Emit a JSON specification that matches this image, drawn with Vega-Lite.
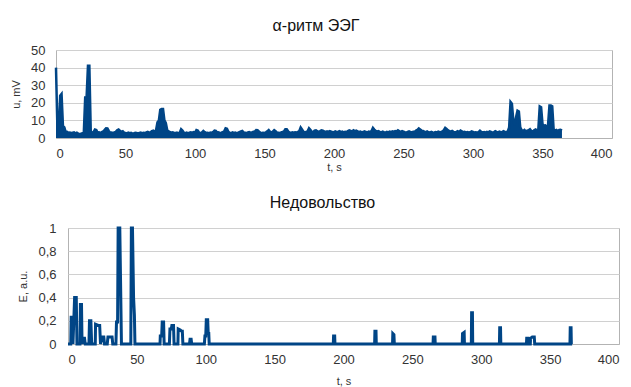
{
  "$schema": "https://vega.github.io/schema/vega-lite/v6.json",
  "padding": {"top": 17, "left": 9, "right": 5, "bottom": 0},
  "background": "white",
  "config": {
    "font": "Liberation Sans",
    "view": {"stroke": "#b3b3b3", "strokeWidth": 1},
    "axis": {"labelFont": "Liberation Sans", "titleFont": "Liberation Sans", "labelFontSize": 13, "titleFontSize": 11, "titleFontWeight": "normal", "labelColor": "#333", "titleColor": "#333", "ticks": false, "domainColor": "#b3b3b3", "gridColor": "#d0d0d0"},
    "title": {"font": "Liberation Sans", "fontSize": 16, "fontWeight": "normal", "color": "#111"}
  },
  "columns": 1,
  "spacing": 21,
  "concat": [
    {"spacing": 0, "hconcat": [
    {
      "width": 1,
      "height": 10,
      "view": {"stroke": null},
      "data": {"values": []},
      "mark": "point",
      "encoding": {}
    },
    {
      "title": {"text": "α-ритм ЭЭГ", "anchor": "middle", "frame": "group", "dx": -18, "offset": 10},
      "width": 556,
      "height": 88,
      "data": {"values": [
        {"t":0,"u":40},{"t":1,"u":6},{"t":2,"u":5},{"t":3,"u":24},{"t":4,"u":25},{"t":5,"u":7},{"t":6,"u":6},{"t":7,"u":3.2},{"t":8,"u":3.5},{"t":9,"u":3},
        {"t":10,"u":3.1},{"t":11,"u":2.8},{"t":12,"u":3},{"t":13,"u":3.2},{"t":14,"u":2.6},{"t":15,"u":3},{"t":16,"u":2.5},{"t":17,"u":2.2},{"t":18,"u":2.4},{"t":19,"u":2.8},
        {"t":20,"u":3},{"t":21,"u":23},{"t":22,"u":23},{"t":23,"u":41},{"t":24,"u":41},{"t":25,"u":4},{"t":26,"u":3},{"t":27,"u":3.4},{"t":28,"u":4.8},{"t":29,"u":4.5},
        {"t":30,"u":3},{"t":31,"u":3.2},{"t":32,"u":2.8},{"t":33,"u":3.4},{"t":34,"u":3.8},{"t":35,"u":4.6},{"t":36,"u":5.5},{"t":37,"u":5.4},{"t":38,"u":4},{"t":39,"u":3},
        {"t":40,"u":3.1},{"t":41,"u":2.8},{"t":42,"u":3.2},{"t":43,"u":3.5},{"t":44,"u":4.4},{"t":45,"u":4.8},{"t":46,"u":4.1},{"t":47,"u":3.5},{"t":48,"u":3.8},{"t":49,"u":3},
        {"t":50,"u":2.8},{"t":51,"u":2.6},{"t":52,"u":3},{"t":53,"u":2.7},{"t":54,"u":2.9},{"t":55,"u":2.5},{"t":56,"u":2.6},{"t":57,"u":3},{"t":58,"u":2.8},{"t":59,"u":2.6},
        {"t":60,"u":2.9},{"t":61,"u":3.1},{"t":62,"u":2.7},{"t":63,"u":3},{"t":64,"u":2.8},{"t":65,"u":3.2},{"t":66,"u":3.5},{"t":67,"u":3.1},{"t":68,"u":3.3},{"t":69,"u":3.9},
        {"t":70,"u":4.2},{"t":71,"u":3.5},{"t":72,"u":4.5},{"t":73,"u":9},{"t":74,"u":10},{"t":75,"u":16},{"t":76,"u":16.5},{"t":77,"u":16.5},{"t":78,"u":10},{"t":79,"u":8.5},
        {"t":80,"u":4.5},{"t":81,"u":3.8},{"t":82,"u":3.4},{"t":83,"u":3},{"t":84,"u":3.2},{"t":85,"u":2.9},{"t":86,"u":2.8},{"t":87,"u":3.1},{"t":88,"u":2.7},{"t":89,"u":3},
        {"t":90,"u":5},{"t":91,"u":4.2},{"t":92,"u":3},{"t":93,"u":2.8},{"t":94,"u":3.1},{"t":95,"u":2.6},{"t":96,"u":3},{"t":97,"u":3.2},{"t":98,"u":2.9},{"t":99,"u":3.3},
        {"t":100,"u":3.1},{"t":101,"u":4.5},{"t":102,"u":4.2},{"t":103,"u":3},{"t":104,"u":2.8},{"t":105,"u":3.2},{"t":106,"u":4},{"t":107,"u":3.3},{"t":108,"u":2.9},{"t":109,"u":3},
        {"t":110,"u":2.7},{"t":111,"u":3.1},{"t":112,"u":2.9},{"t":113,"u":3.4},{"t":114,"u":4.2},{"t":115,"u":4},{"t":116,"u":3},{"t":117,"u":3.2},{"t":118,"u":2.8},{"t":119,"u":3},
        {"t":120,"u":3.4},{"t":121,"u":3.8},{"t":122,"u":5.5},{"t":123,"u":5.2},{"t":124,"u":3.5},{"t":125,"u":3},{"t":126,"u":2.8},{"t":127,"u":3.2},{"t":128,"u":2.9},{"t":129,"u":3.1},
        {"t":130,"u":2.7},{"t":131,"u":3},{"t":132,"u":3.4},{"t":133,"u":3.8},{"t":134,"u":4},{"t":135,"u":3.2},{"t":136,"u":3},{"t":137,"u":2.8},{"t":138,"u":3.1},{"t":139,"u":3.3},
        {"t":140,"u":2.9},{"t":141,"u":3.2},{"t":142,"u":3.5},{"t":143,"u":3.6},{"t":144,"u":4.5},{"t":145,"u":4.4},{"t":146,"u":3.6},{"t":147,"u":3.1},{"t":148,"u":2.8},{"t":149,"u":3},
        {"t":150,"u":2.9},{"t":151,"u":3.2},{"t":152,"u":3.8},{"t":153,"u":4.5},{"t":154,"u":3.5},{"t":155,"u":3.2},{"t":156,"u":3.6},{"t":157,"u":4.5},{"t":158,"u":3.9},{"t":159,"u":3.1},
        {"t":160,"u":3},{"t":161,"u":2.8},{"t":162,"u":3.2},{"t":163,"u":3.4},{"t":164,"u":3.7},{"t":165,"u":5},{"t":166,"u":5},{"t":167,"u":3.8},{"t":168,"u":3.1},{"t":169,"u":2.9},
        {"t":170,"u":3.2},{"t":171,"u":3},{"t":172,"u":3.3},{"t":173,"u":3.1},{"t":174,"u":3.4},{"t":175,"u":3.9},{"t":176,"u":6},{"t":177,"u":4.8},{"t":178,"u":3.6},{"t":179,"u":3.2},
        {"t":180,"u":3.5},{"t":181,"u":3.8},{"t":182,"u":5.5},{"t":183,"u":4.6},{"t":184,"u":3.6},{"t":185,"u":3.4},{"t":186,"u":4.2},{"t":187,"u":4.4},{"t":188,"u":3.8},{"t":189,"u":3.5},
        {"t":190,"u":3.9},{"t":191,"u":4.4},{"t":192,"u":4.2},{"t":193,"u":3.7},{"t":194,"u":3.4},{"t":195,"u":3.8},{"t":196,"u":3.5},{"t":197,"u":3.9},{"t":198,"u":3.6},{"t":199,"u":3.3},
        {"t":200,"u":3.5},{"t":201,"u":3.8},{"t":202,"u":3.4},{"t":203,"u":3.6},{"t":204,"u":3.9},{"t":205,"u":3.3},{"t":206,"u":3.6},{"t":207,"u":3.2},{"t":208,"u":3.5},{"t":209,"u":3.4},
        {"t":210,"u":3.9},{"t":211,"u":4.3},{"t":212,"u":4},{"t":213,"u":3.6},{"t":214,"u":4.4},{"t":215,"u":3.9},{"t":216,"u":4.2},{"t":217,"u":3.8},{"t":218,"u":3.4},{"t":219,"u":3.6},
        {"t":220,"u":3.2},{"t":221,"u":3.5},{"t":222,"u":3.8},{"t":223,"u":3.4},{"t":224,"u":3.2},{"t":225,"u":3.6},{"t":226,"u":3.4},{"t":227,"u":4},{"t":228,"u":5.8},{"t":229,"u":4.8},
        {"t":230,"u":4},{"t":231,"u":3.6},{"t":232,"u":3.9},{"t":233,"u":3.5},{"t":234,"u":3.2},{"t":235,"u":3.6},{"t":236,"u":3.3},{"t":237,"u":3.1},{"t":238,"u":3.5},{"t":239,"u":3.2},
        {"t":240,"u":3.6},{"t":241,"u":3.4},{"t":242,"u":3.8},{"t":243,"u":3.5},{"t":244,"u":3.9},{"t":245,"u":3.7},{"t":246,"u":4.4},{"t":247,"u":3.8},{"t":248,"u":3.5},{"t":249,"u":3.9},
        {"t":250,"u":3.6},{"t":251,"u":3.3},{"t":252,"u":3.1},{"t":253,"u":3.5},{"t":254,"u":3.8},{"t":255,"u":3.4},{"t":256,"u":3.2},{"t":257,"u":3.6},{"t":258,"u":3.5},{"t":259,"u":4.2},
        {"t":260,"u":4.6},{"t":261,"u":5.4},{"t":262,"u":4.8},{"t":263,"u":4.2},{"t":264,"u":4},{"t":265,"u":3.6},{"t":266,"u":3.4},{"t":267,"u":3.8},{"t":268,"u":3.3},{"t":269,"u":3.1},
        {"t":270,"u":3.5},{"t":271,"u":3.2},{"t":272,"u":3},{"t":273,"u":3.4},{"t":274,"u":3.2},{"t":275,"u":3.6},{"t":276,"u":3.3},{"t":277,"u":3.5},{"t":278,"u":3.8},{"t":279,"u":4.5},
        {"t":280,"u":5.8},{"t":281,"u":5.2},{"t":282,"u":4.4},{"t":283,"u":3.9},{"t":284,"u":3.6},{"t":285,"u":4},{"t":286,"u":3.5},{"t":287,"u":3.2},{"t":288,"u":3.5},{"t":289,"u":3.9},
        {"t":290,"u":3.4},{"t":291,"u":4.2},{"t":292,"u":3.8},{"t":293,"u":3.3},{"t":294,"u":3.5},{"t":295,"u":3.1},{"t":296,"u":3.4},{"t":297,"u":3},{"t":298,"u":3.3},{"t":299,"u":3.8},
        {"t":300,"u":3.5},{"t":301,"u":3.1},{"t":302,"u":3.3},{"t":303,"u":3},{"t":304,"u":3.4},{"t":305,"u":4.2},{"t":306,"u":3.5},{"t":307,"u":3.2},{"t":308,"u":3.4},{"t":309,"u":3},
        {"t":310,"u":3.5},{"t":311,"u":3.2},{"t":312,"u":3.7},{"t":313,"u":3.4},{"t":314,"u":3.1},{"t":315,"u":3.3},{"t":316,"u":3.9},{"t":317,"u":3.5},{"t":318,"u":3.2},{"t":319,"u":3.6},
        {"t":320,"u":3.3},{"t":321,"u":3.5},{"t":322,"u":3.9},{"t":323,"u":3.4},{"t":324,"u":3.2},{"t":325,"u":3.8},{"t":326,"u":6},{"t":327,"u":20.5},{"t":328,"u":19.5},{"t":329,"u":10},
        {"t":330,"u":7.5},{"t":331,"u":12},{"t":332,"u":15.5},{"t":333,"u":15},{"t":334,"u":6},{"t":335,"u":4.5},{"t":336,"u":4},{"t":337,"u":4.6},{"t":338,"u":3.8},{"t":339,"u":4.2},
        {"t":340,"u":4.4},{"t":341,"u":5},{"t":342,"u":4},{"t":343,"u":3.6},{"t":344,"u":4.4},{"t":345,"u":4.8},{"t":346,"u":4.2},{"t":347,"u":5},{"t":348,"u":18},{"t":349,"u":17.5},
        {"t":350,"u":8},{"t":351,"u":7},{"t":352,"u":7.2},{"t":353,"u":6},{"t":354,"u":7.5},{"t":355,"u":18.5},{"t":356,"u":18.5},{"t":357,"u":18},{"t":358,"u":5},{"t":359,"u":4.2},
        {"t":360,"u":4.6},{"t":361,"u":4},{"t":362,"u":4.5},{"t":363,"u":4.6},{"t":364,"u":4.2}
      ]},
      "mark": {"type": "area", "color": "#004586", "opacity": 1, "line": {"strokeWidth": 2.5, "color": "#004586"}},
      "encoding": {
        "x": {"field": "t", "type": "quantitative", "scale": {"domain": [0, 400], "nice": false}, "axis": {"title": "t, s", "tickCount": 8, "grid": false, "labelPadding": 9, "titlePadding": 1}},
        "y": {"field": "u", "type": "quantitative", "scale": {"domain": [0, 50], "nice": false}, "axis": {"title": "u, mV", "tickCount": 5, "domain": false, "labelPadding": 11, "titlePadding": 9}}
      }
    }]},
    {"spacing": 0, "hconcat": [
    {
      "width": 8,
      "height": 10,
      "view": {"stroke": null},
      "data": {"values": []},
      "mark": "point",
      "encoding": {}
    },
    {
      "title": {"text": "Недовольство", "anchor": "middle", "frame": "group", "dx": -21, "offset": 11},
      "width": 551,
      "height": 116,
      "data": {"values": [
        {"t":0,"E":0},{"t":2,"E":0},{"t":2.3,"E":0.23},{"t":3.2,"E":0.23},{"t":3.6,"E":0},{"t":4.8,"E":0.4},{"t":6,"E":0.4},{"t":6.5,"E":0},
        {"t":8.7,"E":0},{"t":9,"E":0.34},{"t":9.8,"E":0.34},{"t":10.2,"E":0},{"t":11.2,"E":0.05},{"t":12,"E":0.05},{"t":12.5,"E":0},
        {"t":15.2,"E":0},{"t":15.6,"E":0.2},{"t":16.6,"E":0.2},{"t":17.2,"E":0},{"t":19.8,"E":0},{"t":20,"E":0.17},{"t":22,"E":0.16},{"t":23,"E":0.16},{"t":23.6,"E":0},
        {"t":24.8,"E":0.06},{"t":26,"E":0.06},{"t":26.5,"E":0},{"t":28.5,"E":0},{"t":29,"E":0.06},{"t":32,"E":0.06},{"t":32.5,"E":0},
        {"t":34.8,"E":0},{"t":35.2,"E":0.19},{"t":36,"E":0.19},{"t":36.4,"E":1},{"t":37.6,"E":1},{"t":38.8,"E":0},
        {"t":45.6,"E":0},{"t":46,"E":1},{"t":46.8,"E":1},{"t":47.6,"E":0.4},{"t":48.2,"E":0.25},{"t":48.6,"E":0},
        {"t":66.8,"E":0},{"t":67,"E":0.07},{"t":68,"E":0.07},{"t":68.4,"E":0.19},{"t":69.4,"E":0.19},{"t":69.8,"E":0},
        {"t":73.6,"E":0},{"t":74,"E":0.13},{"t":75,"E":0.13},{"t":75.4,"E":0.16},{"t":76.6,"E":0.16},{"t":77,"E":0},
        {"t":79.8,"E":0},{"t":80,"E":0.13},{"t":81.5,"E":0.12},{"t":82.5,"E":0.11},{"t":83,"E":0.11},{"t":83.4,"E":0},
        {"t":88.2,"E":0},{"t":88.6,"E":0.04},{"t":89.4,"E":0.04},{"t":89.8,"E":0},
        {"t":99,"E":0},{"t":99.4,"E":0.07},{"t":100,"E":0.07},{"t":100.4,"E":0.21},{"t":101.4,"E":0.21},{"t":101.8,"E":0.09},{"t":102.2,"E":0.09},{"t":102.5,"E":0},
        {"t":192.6,"E":0},{"t":192.8,"E":0.07},{"t":193.6,"E":0.07},{"t":193.8,"E":0},
        {"t":222.6,"E":0},{"t":222.8,"E":0.11},{"t":223.6,"E":0.11},{"t":223.8,"E":0},
        {"t":235.6,"E":0},{"t":235.8,"E":0.09},{"t":236.6,"E":0.08},{"t":236.9,"E":0},
        {"t":265,"E":0},{"t":265.2,"E":0.06},{"t":266.4,"E":0.06},{"t":266.6,"E":0},
        {"t":286.2,"E":0},{"t":286.4,"E":0.09},{"t":287.6,"E":0.1},{"t":287.8,"E":0},
        {"t":292.8,"E":0},{"t":293,"E":0.27},{"t":293.6,"E":0.27},{"t":293.8,"E":0},
        {"t":313.2,"E":0},{"t":313.4,"E":0.14},{"t":314,"E":0.14},{"t":314.2,"E":0},
        {"t":332.8,"E":0},{"t":333,"E":0.05},{"t":334,"E":0.05},{"t":334.4,"E":0},
        {"t":335.6,"E":0},{"t":335.8,"E":0.05},{"t":337,"E":0.06},{"t":338.5,"E":0.06},{"t":338.8,"E":0},
        {"t":364.4,"E":0},{"t":364.6,"E":0.14},{"t":365.2,"E":0.14},{"t":365.4,"E":0},{"t":366,"E":0}
      ]},
      "mark": {"type": "line", "color": "#004586", "strokeWidth": 3},
      "encoding": {
        "x": {"field": "t", "type": "quantitative", "scale": {"domain": [0, 400], "nice": false}, "axis": {"title": "t, s", "tickCount": 8, "grid": false, "labelPadding": 9, "titlePadding": 9}},
        "y": {"field": "E", "type": "quantitative", "scale": {"domain": [0, 1], "nice": false}, "axis": {"title": "E, a.u.", "tickCount": 5, "domain": false, "labelPadding": 12, "titlePadding": 9, "labelExpr": "replace(toString(datum.value), '.', ',')"}}
      }
    }]}
  ]
}
